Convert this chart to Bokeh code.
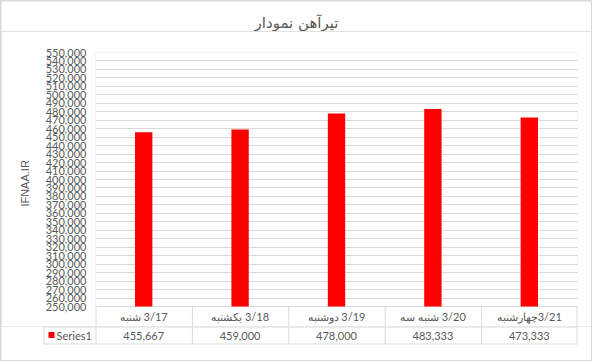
from bokeh.plotting import figure
from bokeh.models import Range1d, FactorRange, FixedTicker, NumeralTickFormatter
from bokeh.layouts import column
from bokeh.embed import file_html
from bokeh.resources import INLINE
from bokeh.core.properties import value

# ---- data ----
categories = ["3/17 شنبه", "3/18 یکشنبه", "3/19 دوشنبه", "3/20 شنبه سه", "3/21چهارشنبه"]
values = [455667, 459000, 478000, 483333, 473333]
series_name = "Series1"
title_text = "تیرآهن نمودار"
y_axis_label = "IFNAA.IR"
y_ticks = list(range(250000, 550001, 10000))

# ---- style ----
TXT = "#595959"
GRID = "#d9d9d9"
RED = "#ff0000"
FONT = "Lato"
FS = "11px"
RLE, PDF = "\u202b", "\u202c"
NBSP = "\u00a0"

Y0, Y1 = 250000, 550000
PX = (Y1 - Y0) / 254.0          # value units per pixel in the chart frame
CW = 96.4                       # pixel width of one category
h = 0.5 / CW                    # half-pixel in category units
n = len(categories)

# ---- title strip ----
c = figure(width=590, height=30, x_range=Range1d(0, 590), y_range=Range1d(30, 0),
           output_backend="svg", toolbar_location=None,
           x_axis_location=None, y_axis_location=None, min_border=0)
c.outline_line_color = None
c.grid.visible = False
c.text(x=[295], y=[21], text=[title_text], text_align="center",
       text_baseline="middle", text_font=value("DejaVu Sans"),
       text_font_size="15px", text_color=TXT)

# ---- chart (with first table row) ----
p = figure(width=590, height=295,
           x_range=FactorRange(*categories, range_padding=0),
           y_range=Range1d(Y0 - 20 * PX, Y1),
           output_backend="svg", toolbar_location=None,
           x_axis_location=None,
           min_border_left=94, min_border_right=14,
           min_border_top=21, min_border_bottom=0)
p.outline_line_color = None
p.xgrid.visible = False
p.ygrid.grid_line_color = GRID
p.ygrid.ticker = FixedTicker(ticks=y_ticks)

p.vbar(x=categories, top=values, bottom=Y0, width=0.18,
       fill_color=RED, line_color=None)

ax = p.yaxis[0]
ax.ticker = FixedTicker(ticks=y_ticks)
ax.formatter = NumeralTickFormatter(format="0,0")
ax.axis_line_color = None
ax.major_tick_line_color = None
ax.minor_tick_line_color = None
ax.major_tick_out = 0
ax.major_tick_in = 0
ax.minor_tick_out = 0
ax.major_label_standoff = 9
ax.major_label_text_font = FONT
ax.major_label_text_font_size = FS
ax.major_label_text_color = TXT
ax.axis_label = NBSP * 4 + y_axis_label
ax.axis_label_text_font = "Liberation Sans"
ax.axis_label_text_font_size = FS
ax.axis_label_text_font_style = "normal"
ax.axis_label_text_color = TXT
ax.axis_label_standoff = 12

# table row 1 (category names) inside the chart frame
vx = [0 + h] + [i + h for i in range(1, n)] + [n - h]
p.segment(x0=vx, y0=[Y0] * len(vx), x1=vx, y1=[Y0 - 21 * PX] * len(vx),
          line_color=GRID, line_width=1)
p.text(x=categories, y=[Y0 - 10 * PX] * n, text=[RLE + s + PDF for s in categories],
       text_align="center", text_baseline="middle",
       text_font=value(FONT), text_font_size=FS, text_color=TXT)

# ---- table row 2 (values) ----
def dx(px):
    return (px - 95) / CW

t = figure(width=590, height=34,
           x_range=Range1d(dx(1), dx(591)), y_range=Range1d(34, 0),
           output_backend="svg", toolbar_location=None,
           x_axis_location=None, y_axis_location=None, min_border=0)
t.outline_line_color = None
t.grid.visible = False

x_leg = dx(43) + h
t.segment(x0=[x_leg, x_leg], y0=[0.5, 17.5], x1=[n, n], y1=[0.5, 17.5],
          line_color=GRID, line_width=1)
vx2 = [x_leg] + vx
t.segment(x0=vx2, y0=[0] * len(vx2), x1=vx2, y1=[17.5] * len(vx2),
          line_color=GRID, line_width=1)

xc = [i + 0.5 for i in range(n)]
t.text(x=xc, y=[9] * n, text=["{:,}".format(v) for v in values],
       text_align="center", text_baseline="middle",
       text_font=value(FONT), text_font_size=FS, text_color=TXT)
t.text(x=[dx(56)], y=[9], text=[series_name],
       text_align="left", text_baseline="middle",
       text_font=value(FONT), text_font_size=FS, text_color=TXT)
t.scatter(x=[dx(51)], y=[8.5], marker="square", size=6,
          fill_color=RED, line_color=None)

for f in (c, p, t):
    f.frame_align = False

layout = column(c, p, t, styles={"padding": "1px", "background-color": GRID})

open("out.html", "w").write(file_html(layout, INLINE))
